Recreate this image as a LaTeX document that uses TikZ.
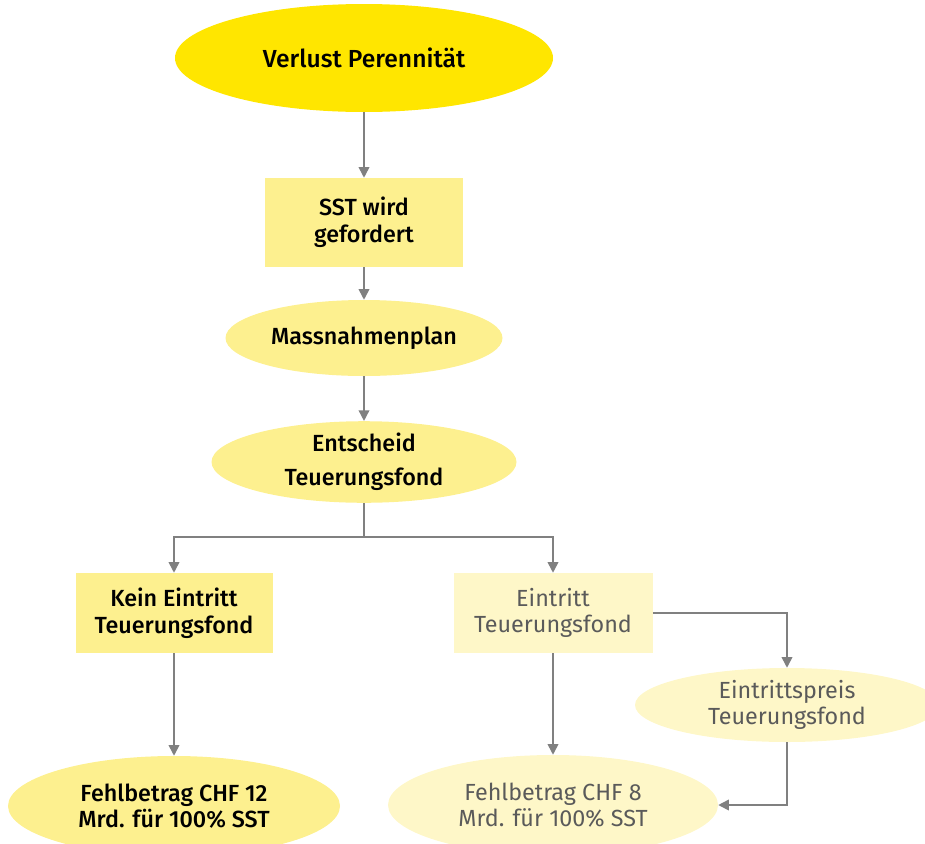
\documentclass[tikz,border=0pt]{standalone}
\usepackage{fontspec}
\setmainfont{Fira Sans}
\newfontfamily\medfont[UprightFont={* Medium}]{Fira Sans}
\usetikzlibrary{shapes.geometric,arrows.meta}
\definecolor{ybright}{HTML}{FFE600}
\definecolor{ymid}{HTML}{FDF08F}
\definecolor{ylight}{HTML}{FEF7C8}
\definecolor{conn}{HTML}{808080}
\definecolor{greytext}{HTML}{5A5A5A}
\tikzset{
  base/.style={inner sep=0pt, align=center, font=\medfont\fontsize{17.5}{20}\selectfont, text=black},
  bigell/.style={base, ellipse, fill=ybright, font=\medfont\fontsize{18.5}{20}\selectfont},
  midell/.style={base, ellipse, fill=ymid},
  midbox/.style={base, rectangle, fill=ymid},
  lightbox/.style={base, rectangle, fill=ylight, text=greytext, font=\fontsize{17.5}{20}\selectfont},
  lightell/.style={base, ellipse, fill=ylight, text=greytext, font=\fontsize{17.5}{20}\selectfont},
  link/.style={draw=conn, line width=1.2pt, -{Triangle[width=8pt,length=8pt]}},
  plain/.style={draw=conn, line width=1.2pt}
}
\begin{document}
\begin{tikzpicture}[x=0.75pt,y=-0.75pt]
\useasboundingbox (0,0) rectangle (925,843);
\clip (0,0) rectangle (925,843);
\node[bigell, minimum width=283.5pt, minimum height=81pt] (top) at (364,58) {Verlust Perennität};
\node[midbox, minimum width=148.5pt, minimum height=66.75pt] (sst) at (364,222.5) {SST wird\\gefordert};
\node[midell, minimum width=207.75pt, minimum height=57pt] (mass) at (364,338) {Massnahmenplan};
\node[midell, minimum width=228.75pt, minimum height=57pt, font=\medfont\fontsize{17.5}{25.5}\selectfont] (ent) at (364,462) {Entscheid\\Teuerungsfond};
\node[midbox, minimum width=147.75pt, minimum height=60pt] (kein) at (174,613) {Kein Eintritt\\Teuerungsfond};
\node[lightbox, minimum width=149.25pt, minimum height=60pt] (ein) at (553,613) {Eintritt\\Teuerungsfond};
\node[lightell, minimum width=228pt, minimum height=55.5pt] (preis) at (787,705) {Eintrittspreis\\Teuerungsfond};
\node[midell, minimum width=249pt, minimum height=75pt] (f12) at (174,806) {Fehlbetrag CHF 12\\Mrd. für 100\% SST};
\node[lightell, minimum width=247.5pt, minimum height=75pt] (f8) at (553,805) {Fehlbetrag CHF 8\\Mrd. für 100\% SST};
\coordinate (split) at (364,537);
\draw[link] (top.south) -- (sst.north);
\draw[link] (sst.south) -- (mass.north);
\draw[link] (mass.south) -- (ent.north);
\draw[plain] (ent.south) -- (split);
\draw[link] (split) -| (kein.north);
\draw[link] (split) -| (ein.north);
\draw[link] (ein.east) -| (preis.north);
\draw[link] (kein.south) -- (f12.north);
\draw[link] (ein.south) -- (f8.north);
\draw[link] (preis.south) |- (f8.east);
\end{tikzpicture}
\end{document}
